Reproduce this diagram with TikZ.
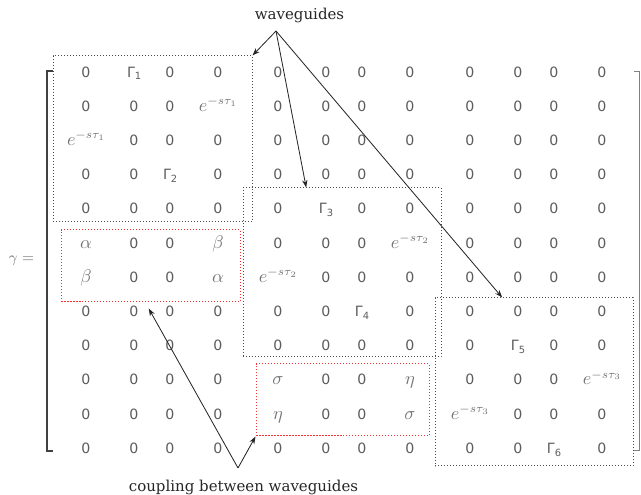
\documentclass[tikz,border=0pt]{standalone}
\usepackage{fontspec}
\newfontfamily\entryfont{DejaVu Sans}
\newfontfamily\notefont{DejaVu Serif}
\usepackage{tikz}
\usetikzlibrary{calc,arrows.meta,fit,matrix}
\definecolor{entrygray}{gray}{0.36}
\definecolor{mathgray}{gray}{0.45}
\definecolor{boxgray}{gray}{0.3}
\definecolor{cplred}{rgb}{0.95,0.2,0.2}
\tikzset{
  entry/.style={font=\entryfont\fontsize{8.5}{10}\selectfont,text=entrygray,
    inner sep=0pt,text width=8.4pt,align=center,text height=6.2pt,text depth=0pt},
  wide/.style={nodes={text width=22.8pt}},
  wgbox/.style={draw=boxgray,dash pattern=on 0.6pt off 1.2pt,line width=0.6pt,inner sep=0pt},
  cplbox/.style={draw=cplred,dash pattern=on 0.9pt off 0.9pt,line width=0.6pt,inner sep=0pt},
  pointer/.style={-{Stealth[length=4.5pt,width=3.2pt]},line width=0.5pt,black!85},
  note/.style={font=\notefont\fontsize{9}{11}\selectfont,text=black!85}
}
\newcommand{\dly}[1]{{\fontsize{10.5}{12}\selectfont\color{mathgray}$e^{-s\tau_{#1}}$}}
\newcommand{\cpl}[1]{{\fontsize{10.5}{12}\selectfont\color{mathgray}$#1$}}

\begin{document}
\begin{tikzpicture}[x=0.6pt,y=-0.6pt]
  \useasboundingbox (0,0) rectangle (641,495);
  \matrix (m) [matrix of nodes,nodes={entry},column sep=13.2pt,row sep=14.32pt,
    column 1/.style={wide},column 4/.style={wide},column 5/.style={wide},
    column 8/.style={wide},column 9/.style={wide},column 12/.style={wide}] at (344,260) {
    0 & Γ\textsubscript{1} & 0 & 0 & 0 & 0 & 0 & 0 & 0 & 0 & 0 & 0 \\
    0 & 0 & 0 & \dly{1} & 0 & 0 & 0 & 0 & 0 & 0 & 0 & 0 \\
    \dly{1} & 0 & 0 & 0 & 0 & 0 & 0 & 0 & 0 & 0 & 0 & 0 \\
    0 & 0 & Γ\textsubscript{2} & 0 & 0 & 0 & 0 & 0 & 0 & 0 & 0 & 0 \\
    0 & 0 & 0 & 0 & 0 & Γ\textsubscript{3} & 0 & 0 & 0 & 0 & 0 & 0 \\
    \cpl{\alpha} & 0 & 0 & \cpl{\beta} & 0 & 0 & 0 & \dly{2} & 0 & 0 & 0 & 0 \\
    \cpl{\beta} & 0 & 0 & \cpl{\alpha} & \dly{2} & 0 & 0 & 0 & 0 & 0 & 0 & 0 \\
    0 & 0 & 0 & 0 & 0 & 0 & Γ\textsubscript{4} & 0 & 0 & 0 & 0 & 0 \\
    0 & 0 & 0 & 0 & 0 & 0 & 0 & 0 & 0 & Γ\textsubscript{5} & 0 & 0 \\
    0 & 0 & 0 & 0 & \cpl{\sigma} & 0 & 0 & \cpl{\eta} & 0 & 0 & 0 & \dly{3} \\
    0 & 0 & 0 & 0 & \cpl{\eta} & 0 & 0 & \cpl{\sigma} & \dly{3} & 0 & 0 & 0 \\
    0 & 0 & 0 & 0 & 0 & 0 & 0 & 0 & 0 & 0 & Γ\textsubscript{6} & 0 \\
  };
  \node[font=\fontsize{9}{11}\selectfont,text=mathgray] (lhs) at (21.5,261) {$\gamma =$};
  \draw[line width=1.2pt,black!75] (53,71) -- (47,71) -- (47,451) -- (53,451);
  \draw[line width=0.6pt,gray] (634,72) -- (639,72) -- (639,451) -- (634,451);

  \node[wgbox,fit={(53,56) (252,222)}] (wgA) {};
  \node[wgbox,fit={(243,188) (441,357)}] (wgB) {};
  \node[wgbox,fit={(435,298) (633,466)}] (wgC) {};
  \node[cplbox,fit={(61,230) (240,302)}] (cpA) {};
  \node[cplbox,fit={(256,364) (429,436)}] (cpB) {};

  \node[note] (wg) at (299.5,15) {waveguides};
  \node[note] (cp) at (243.5,487) {coupling between waveguides};
  \coordinate (wgfoot) at (276,31);
  \coordinate (cpfoot) at (238,468);
  \draw[pointer] (wgfoot) -- (wgA.north east);
  \draw[pointer] (wgfoot) -- ($(wgB.north west)!0.32!(wgB.north east)$);
  \draw[pointer] (wgfoot) -- ($(wgC.north west)!0.34!(wgC.north east)$);
  \draw[pointer] (cpfoot) -- ($(cpA.south west)!0.49!(cpA.south east)+(0,6)$);
  \draw[pointer] (cpfoot) -- (cpB.south west);
\end{tikzpicture}
\end{document}
